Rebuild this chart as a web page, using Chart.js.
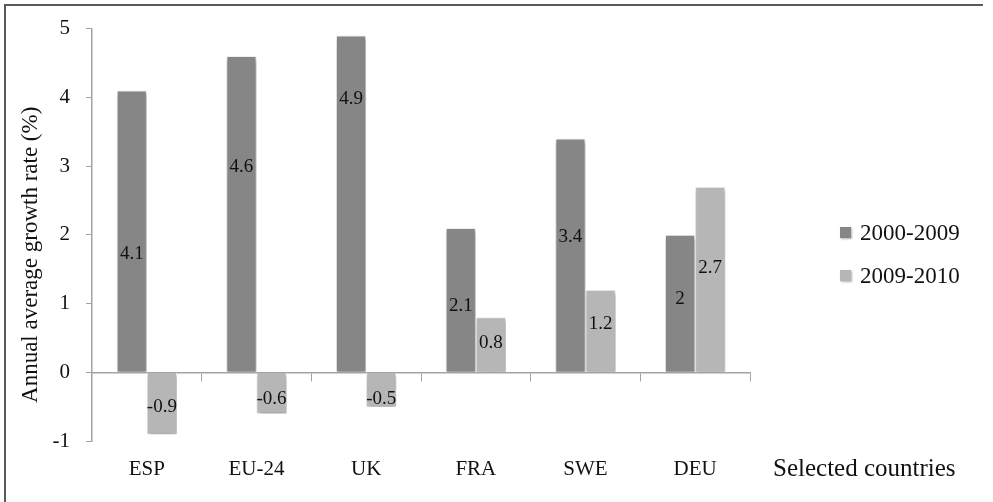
<!DOCTYPE html>
<html>
<head>
<meta charset="utf-8">
<script src="https://cdn.jsdelivr.net/npm/chart.js@4.4.1/dist/chart.umd.min.js"></script>
<style>
  html, body { margin: 0; padding: 0; background: #fff; }
  #wrap { position: relative; width: 993px; height: 502px; }
  canvas { display: block; }
</style>
</head>
<body>
<div id="wrap"><canvas id="c" width="993" height="502"></canvas></div>
<script>
// Categories and series
const countries = ['ESP', 'EU-24', 'UK', 'FRA', 'SWE', 'DEU'];
const seriesNames = ['2000-2009', '2009-2010'];
const growth2000to2009 = [4.1, 4.6, 4.9, 2.1, 3.4, 2];
const growth2009to2010 = [-0.9, -0.6, -0.5, 0.8, 1.2, 2.7];
const yTicks = [-1, 0, 1, 2, 3, 4, 5];

// Where each value label sits along its bar (fraction of bar length)
const labelFractions = [
  [0.42, 0.65, 0.81, 0.46, 0.58, 0.53],
  [0.56, 0.65, 0.78, 0.54, 0.59, 0.56]
];

const SERIF = '"Liberation Serif", "DejaVu Serif", serif';
const AXIS_GREY = '#a3a3a3';

// Soft drop shadow under the bars
const barShadow = {
  id: 'barShadow',
  beforeDatasetsDraw(chart) {
    const ctx = chart.ctx;
    ctx.save();
    ctx.shadowColor = 'rgba(0,0,0,0.35)';
    ctx.shadowBlur = 4;
    ctx.shadowOffsetX = 1;
    ctx.shadowOffsetY = 3;
  },
  afterDatasetsDraw(chart) {
    chart.ctx.restore();
  }
};

// Value labels, axis titles, legend and frame
const decorations = {
  id: 'decorations',
  afterDatasetsDraw(chart) {
    const ctx = chart.ctx;
    const y = chart.scales.y;
    ctx.save();
    ctx.font = '19px ' + SERIF;
    ctx.fillStyle = '#111';
    ctx.textAlign = 'center';
    ctx.textBaseline = 'middle';
    chart.data.datasets.forEach((ds, di) => {
      const meta = chart.getDatasetMeta(di);
      meta.data.forEach((bar, i) => {
        const v = ds.data[i];
        const py = y.getPixelForValue(v * labelFractions[di][i]);
        ctx.fillText(String(v), bar.x, py);
      });
    });
    ctx.restore();
  },
  afterDraw(chart) {
    const ctx = chart.ctx;
    const area = chart.chartArea;
    ctx.save();

    // frame
    ctx.strokeStyle = '#5a5a5a';
    ctx.lineWidth = 2;
    ctx.beginPath();
    ctx.moveTo(5, 502);
    ctx.lineTo(5, 5);
    ctx.lineTo(983, 5);
    ctx.stroke();

    // y-axis title
    ctx.fillStyle = '#111';
    ctx.font = '23px ' + SERIF;
    ctx.textAlign = 'center';
    ctx.textBaseline = 'middle';
    ctx.translate(31, (area.top + area.bottom) / 2 + 20);
    ctx.rotate(-Math.PI / 2);
    ctx.fillText('Annual average growth rate (%)', 0, 0);
    ctx.setTransform(1, 0, 0, 1, 0, 0);

    // x-axis title
    ctx.font = '25px ' + SERIF;
    ctx.textAlign = 'left';
    ctx.fillText('Selected countries', 773, 469);

    // legend
    ctx.font = '23px ' + SERIF;
    chart.data.datasets.forEach((ds, di) => {
      const cy = 233 + di * 43;
      ctx.save();
      ctx.shadowColor = 'rgba(0,0,0,0.3)';
      ctx.shadowBlur = 2;
      ctx.shadowOffsetX = 1;
      ctx.shadowOffsetY = 1;
      ctx.fillStyle = ds.backgroundColor;
      ctx.fillRect(840, cy - 6, 11, 11);
      ctx.restore();
      ctx.fillStyle = '#111';
      ctx.textAlign = 'left';
      ctx.fillText(ds.label, 860, cy + 1);
    });
    ctx.restore();
  }
};

new Chart(document.getElementById('c'), {
  type: 'bar',
  data: {
    labels: countries,
    datasets: [
      {
        label: seriesNames[0],
        data: growth2000to2009,
        backgroundColor: '#868686',
        borderColor: '#f2f2f2',
        borderWidth: 1
      },
      {
        label: seriesNames[1],
        data: growth2009to2010,
        backgroundColor: '#b6b6b6',
        borderColor: '#f2f2f2',
        borderWidth: 1
      }
    ]
  },
  options: {
    responsive: false,
    animation: false,
    categoryPercentage: 0.55,
    barPercentage: 1.0,
    layout: { padding: { left: 0, top: 28, right: 243, bottom: 0 } },
    plugins: {
      legend: { display: false },
      tooltip: { enabled: false }
    },
    scales: {
      x: {
        type: 'category',
        position: { y: 0 },
        offset: true,
        grid: {
          display: true,
          offset: true,
          drawOnChartArea: false,
          drawTicks: true,
          tickLength: 8,
          color: AXIS_GREY,
          lineWidth: 1
        },
        border: { display: true, color: AXIS_GREY, width: 1.5 },
        ticks: { display: false }
      },
      x2: {
        type: 'category',
        position: 'bottom',
        offset: true,
        labels: countries,
        grid: { display: false, drawTicks: false },
        border: { display: false },
        ticks: {
          padding: 16,
          color: '#111',
          font: { family: SERIF, size: 21 },
          maxRotation: 0
        },
        afterFit(scale) { scale.height = 61; }
      },
      y: {
        min: -1,
        max: 5,
        afterBuildTicks(scale) {
          scale.ticks = yTicks.map(v => ({ value: v }));
        },
        grid: {
          display: true,
          drawOnChartArea: false,
          drawTicks: true,
          tickLength: 6,
          color: AXIS_GREY
        },
        border: { display: true, color: AXIS_GREY, width: 1.5 },
        ticks: {
          padding: 16,
          color: '#111',
          font: { family: SERIF, size: 21 }
        },
        afterFit(scale) { scale.width = 92; }
      }
    }
  },
  plugins: [barShadow, decorations]
});
</script>
</body>
</html>
